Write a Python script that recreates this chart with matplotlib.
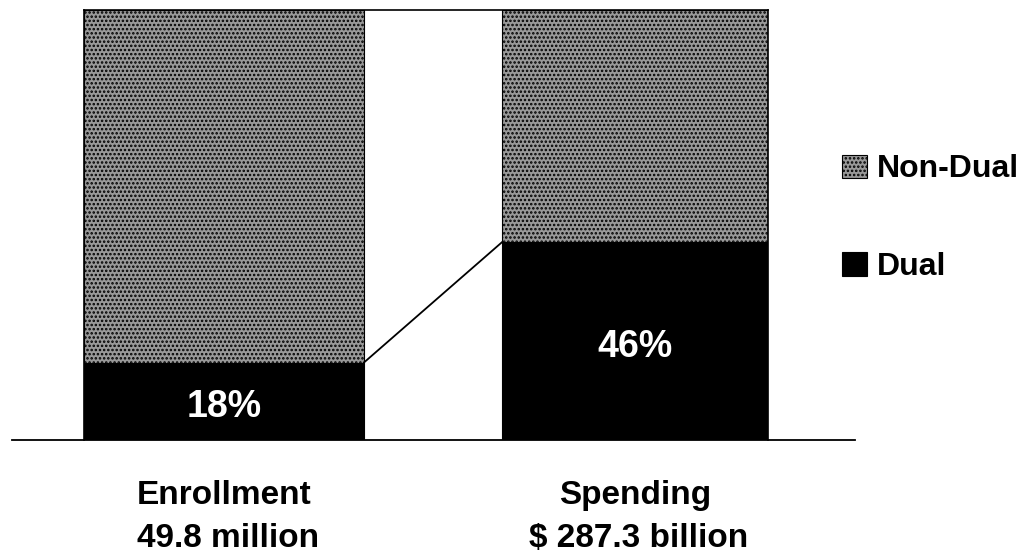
import matplotlib
matplotlib.use('Agg')
import matplotlib.pyplot as plt
from matplotlib.transforms import offset_copy

# data
categories = ['Enrollment', 'Spending']
totals = ['49.8 million', '$ 287.3 billion']
dual = [18, 46]
non_dual = [82, 54]

plt.rcParams['font.family'] = ['Liberation Sans', 'DejaVu Sans']
plt.rcParams['hatch.linewidth'] = 1.2

fig = plt.figure(figsize=(10.29, 5.58), dpi=100)
ax = fig.add_axes([0.0816, 0.2115, 0.6647, 0.7706])

x = [0, 1]
widths = [0.681, 0.647]
ax.bar(x, dual, width=widths, color='black', edgecolor='black', linewidth=0.8, label='Dual')
ax.bar(x, non_dual, width=widths, bottom=dual, color='#999999', edgecolor='black',
       hatch='....', linewidth=0.8, label='Non-Dual')

# connector between the tops of the dual segments
ax.plot([x[0] + widths[0] / 2, x[1] - widths[1] / 2], dual, color='black', lw=1.3)

lbl_tr = offset_copy(ax.transData, fig=fig, x=0, y=-4, units='points')
for xi, d in zip(x, dual):
    ax.text(xi, d / 2, f'{d}%', color='white', fontsize=27, fontweight='bold',
            ha='center', va='center', transform=lbl_tr)

ax.set_xlim(x[0] - widths[0] / 2, x[1] + widths[1] / 2)
ax.set_ylim(0, 100)
ax.set_xticks([])
ax.set_yticks([])
for s in ['top', 'left', 'right']:
    ax.spines[s].set_linewidth(1.2)
ax.spines['bottom'].set_visible(False)
ax.plot([-0.515, 1.536], [0, 0], color='black', lw=1.3, clip_on=False)

for xi, c, t in zip(x, categories, totals):
    ax.text(xi, -12.9, c, fontsize=24, fontweight='bold', ha='center', va='center')
    ax.text(xi + 0.01, -23.0, t, fontsize=24, fontweight='bold', ha='center', va='center')

h, l = ax.get_legend_handles_labels()
leg = fig.legend(h[::-1], l[::-1], loc='upper left', bbox_to_anchor=(0.803, 0.752),
                 frameon=False, prop={'weight': 'bold', 'size': 23},
                 handlelength=0.78, handleheight=0.75, handletextpad=0.3,
                 labelspacing=2.12, borderpad=0)

fig.savefig('out.png', dpi=100)
